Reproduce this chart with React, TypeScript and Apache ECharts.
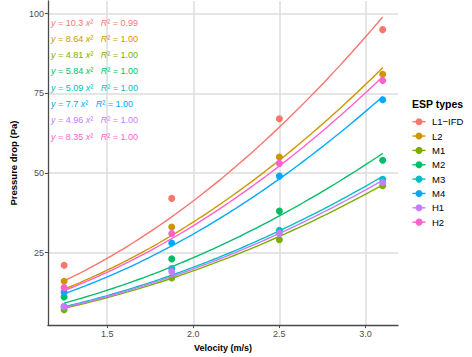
import React, { useEffect, useRef } from "react";
import * as echarts from "echarts";

const velocities = [1.25, 1.875, 2.5, 3.1];
const espTypes = ["L1−IFD", "L2", "M1", "M2", "M3", "M4", "H1", "H2"];
const colors = ["#F8766D", "#CD9600", "#7CAE00", "#00BE67", "#00BFC4", "#00A9FF", "#C77CFF", "#FF61CC"];
const dropL1 = [21, 42, 67, 95];
const dropL2 = [16, 33, 55, 81];
const dropM1 = [7, 17, 29, 46];
const dropM2 = [11, 23, 38, 54];
const dropM3 = [8, 20, 32, 48];
const dropM4 = [12.5, 28, 49, 73];
const dropH1 = [8, 19, 31, 47];
const dropH2 = [14, 31, 53, 79];
const drops = [dropL1, dropL2, dropM1, dropM2, dropM3, dropM4, dropH1, dropH2];
const coefLabels = ["10.3", "8.64", "4.81", "5.84", "5.09", "7.7", "4.96", "8.35"];
const r2Labels = ["0.99", "1.00", "1.00", "1.00", "1.00", "1.00", "1.00", "1.00"];
const xTicks = [1.5, 2.0, 2.5, 3.0];
const yTicks = [25, 50, 75, 100];

const FONT = "Liberation Sans, Arial, sans-serif";

export default function App() {
  const ref = useRef<HTMLDivElement>(null);
  useEffect(() => {
    if (!ref.current) return;
    const chart = echarts.init(ref.current, undefined, { renderer: "svg" });
    const xMin = velocities[0];
    const xMax = velocities[velocities.length - 1];
    const steps = 60;
    const series: any[] = [];
    espTypes.forEach((name, i) => {
      const a = parseFloat(coefLabels[i]);
      const curve: number[][] = [];
      for (let k = 0; k <= steps; k++) {
        const x = xMin + ((xMax - xMin) * k) / steps;
        curve.push([x, a * x * x]);
      }
      series.push({
        name,
        type: "scatter",
        data: velocities.map((v, j) => [v, drops[i][j]]),
        symbolSize: 7,
        itemStyle: { color: colors[i], opacity: 1 },
        z: 2 + i * 0.01,
      });
      series.push({
        name: name + " fit",
        type: "line",
        data: curve,
        showSymbol: false,
        symbol: "none",
        lineStyle: { color: colors[i], width: 1.4 },
        itemStyle: { color: colors[i] },
        z: 2 + i * 0.01,
      });
    });
    const eqTexts = espTypes.map((_, i) => ({
      type: "text",
      left: 51,
      top: 18 + i * 16.3,
      style: {
        text: `{i|y} = ${coefLabels[i]} {i|x}²   {i|R}² = ${r2Labels[i]}`,
        fill: colors[i],
        font: `9px ${FONT}`,
        fontFamily: FONT,
        fontSize: 9,
        rich: { i: { fontStyle: "italic", fontSize: 9, fontFamily: FONT, fill: colors[i] } },
      },
      z: 10,
    }));
    const legendTop = 121.7;
    const legendStep = 14.35;
    const legendItems: any[] = [];
    espTypes.forEach((name, i) => {
      const cy = legendTop + i * legendStep;
      legendItems.push({
        type: "line",
        shape: { x1: 412.5, y1: cy, x2: 425.5, y2: cy },
        style: { stroke: colors[i], lineWidth: 1.4 },
        z: 10,
      });
      legendItems.push({
        type: "circle",
        shape: { cx: 419, cy, r: 3.5 },
        style: { fill: colors[i] },
        z: 11,
      });
      legendItems.push({
        type: "text",
        x: 432,
        y: cy,
        style: {
          text: name,
          fill: "#000",
          fontFamily: FONT,
          fontSize: 9.5,
          verticalAlign: "middle",
          align: "left",
        },
        z: 11,
      });
    });
    chart.setOption({
      animation: false,
      backgroundColor: "#ffffff",
      textStyle: { fontFamily: FONT },
      grid: { left: 32, right: 74, top: 1, bottom: 30, containLabel: false },
      title: {
        text: "ESP types",
        left: 412,
        top: 98,
        textStyle: { fontSize: 10.5, fontWeight: "bold", color: "#000", fontFamily: FONT },
        padding: 0,
      },
      xAxis: {
        type: "value",
        min: 1.156,
        max: 3.189,
        name: "Velocity (m/s)",
        nameLocation: "middle",
        nameGap: 17,
        nameTextStyle: { fontSize: 9, fontWeight: "bold", color: "#000", fontFamily: FONT },
        axisLine: { show: true, lineStyle: { color: "#4a4a4a", width: 1.3 } },
        axisTick: { show: true, length: 3, lineStyle: { color: "#4a4a4a" }, customValues: xTicks },
        axisLabel: {
          customValues: xTicks,
          formatter: (v: number) => v.toFixed(1),
          fontSize: 9,
          color: "#4D4D4D",
          margin: 4,
          fontFamily: FONT,
        },
        splitLine: { show: true, lineStyle: { color: "#DCDCDC", width: 1.5 } },
      },
      yAxis: {
        type: "value",
        min: 2.2,
        max: 104,
        name: "Pressure drop (Pa)",
        nameLocation: "middle",
        nameGap: 22,
        nameTextStyle: { fontSize: 9.5, fontWeight: "bold", color: "#000", fontFamily: FONT },
        axisLine: { show: true, lineStyle: { color: "#4a4a4a", width: 1.3 } },
        axisTick: { show: true, length: 3, lineStyle: { color: "#4a4a4a" }, customValues: yTicks },
        axisLabel: {
          customValues: yTicks,
          fontSize: 9,
          color: "#4D4D4D",
          margin: 4,
          fontFamily: FONT,
        },
        splitLine: { show: true, lineStyle: { color: "#DCDCDC", width: 1.5 } },
      },
      graphic: [...eqTexts, ...legendItems],
      series,
    });
    return () => chart.dispose();
  }, []);
  return <div ref={ref} style={{ width: 472, height: 357, position: "absolute", left: 0, top: 0 }} />;
}
